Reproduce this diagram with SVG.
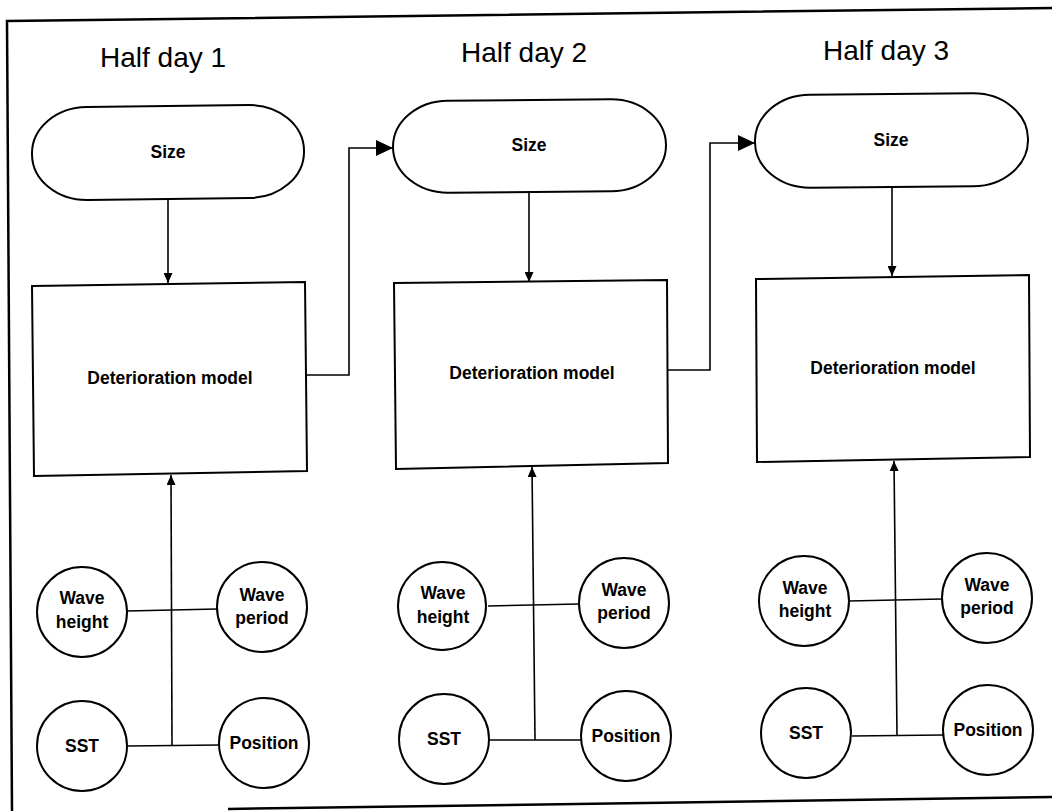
<svg xmlns="http://www.w3.org/2000/svg" width="1052" height="811" viewBox="0 0 1052 811">
<defs>
<style>
.frame{fill:none;stroke:#000;stroke-width:2.5}
.box{fill:#fff;stroke:#000;stroke-width:2}
.ln{fill:none;stroke:#000;stroke-width:1.6}
.ttl{font-family:"Liberation Sans",Arial,sans-serif;font-size:28px;fill:#000}
.lbl{font-family:"Liberation Sans",Arial,sans-serif;font-size:17.5px;font-weight:bold;fill:#000;text-anchor:middle}
</style>
<marker id="sm" viewBox="0 0 10 9" refX="10" refY="4.5" markerWidth="10" markerHeight="9" markerUnits="userSpaceOnUse" orient="auto"><path d="M0,0 L10,4.5 L0,9 z" fill="#000"/></marker>
<marker id="lg" viewBox="0 0 17 16" refX="17" refY="8" markerWidth="17" markerHeight="16" markerUnits="userSpaceOnUse" orient="auto"><path d="M0,0 L17,8 L0,16 z" fill="#000"/></marker>
</defs>
<rect width="1052" height="811" fill="#fff"/>
<g id="frame">
<path class="frame" d="M1052,8 L7,21 L12,811"/>
<path class="frame" d="M228,809 L1052,797"/>
</g>
<g id="titles">
<text class="ttl" x="100" y="67">Half day 1</text>
<text class="ttl" x="461" y="62">Half day 2</text>
<text class="ttl" x="823" y="60">Half day 3</text>
</g>
<g id="connectors">
<path class="ln" d="M168,199 L168,283" marker-end="url(#sm)"/>
<path class="ln" d="M529,192 L529,282" marker-end="url(#sm)"/>
<path class="ln" d="M892,187 L892,276" marker-end="url(#sm)"/>
<path class="ln" d="M306,375 L349,375 L349,148 L393,148" marker-end="url(#lg)"/>
<path class="ln" d="M668,370 L710,370 L710,143 L755,143" marker-end="url(#lg)"/>
<path class="ln" d="M172,745 L171,475" marker-end="url(#sm)"/>
<path class="ln" d="M535,740 L532,467" marker-end="url(#sm)"/>
<path class="ln" d="M897,735 L894,461" marker-end="url(#sm)"/>
<path class="ln" d="M127,611 L217,609"/>
<path class="ln" d="M128,746 L219,745"/>
<path class="ln" d="M488,606 L579,604"/>
<path class="ln" d="M489,740 L581,740"/>
<path class="ln" d="M849,601 L942,599"/>
<path class="ln" d="M852,736 L943,735"/>
</g>
<g id="size1"><rect class="box" x="32" y="106" width="272" height="93" rx="55" ry="46" transform="rotate(-0.7 168 152)"/><text class="lbl" x="168" y="158">Size</text></g>
<g id="size2"><rect class="box" x="393" y="100" width="273" height="92" rx="55" ry="46" transform="rotate(-0.5 529 146)"/><text class="lbl" x="529" y="151">Size</text></g>
<g id="size3"><rect class="box" x="755" y="94" width="273" height="93" rx="55" ry="46" transform="rotate(-0.5 891 140)"/><text class="lbl" x="891" y="146">Size</text></g>
<g id="det1"><path class="box" d="M32,286 L305,282 L307,471 L34,476 z"/><text class="lbl" x="170" y="384">Deterioration model</text></g>
<g id="det2"><path class="box" d="M394,283 L667,280 L668,463 L396,469 z"/><text class="lbl" x="532" y="379">Deterioration model</text></g>
<g id="det3"><path class="box" d="M756,279 L1029,275 L1030,457 L757,462 z"/><text class="lbl" x="893" y="374">Deterioration model</text></g>
<g id="waveheight1"><circle class="box" cx="82" cy="612" r="45"/><text class="lbl" x="82" y="604">Wave</text><text class="lbl" x="82" y="628">height</text></g>
<g id="waveperiod1"><circle class="box" cx="262" cy="607" r="45"/><text class="lbl" x="262" y="601">Wave</text><text class="lbl" x="262" y="624">period</text></g>
<g id="sst1"><circle class="box" cx="82" cy="746" r="45"/><text class="lbl" x="82" y="752">SST</text></g>
<g id="position1"><circle class="box" cx="264" cy="743" r="45"/><text class="lbl" x="264" y="749">Position</text></g>
<g id="waveheight2"><circle class="box" cx="442" cy="606" r="44"/><text class="lbl" x="443" y="599">Wave</text><text class="lbl" x="443" y="623">height</text></g>
<g id="waveperiod2"><circle class="box" cx="624" cy="603" r="45"/><text class="lbl" x="624" y="596">Wave</text><text class="lbl" x="624" y="619">period</text></g>
<g id="sst2"><circle class="box" cx="444" cy="739" r="45"/><text class="lbl" x="444" y="745">SST</text></g>
<g id="position2"><circle class="box" cx="626" cy="736" r="45"/><text class="lbl" x="626" y="742">Position</text></g>
<g id="waveheight3"><circle class="box" cx="804" cy="601" r="45"/><text class="lbl" x="805" y="594">Wave</text><text class="lbl" x="805" y="617">height</text></g>
<g id="waveperiod3"><circle class="box" cx="987" cy="598" r="45"/><text class="lbl" x="987" y="591">Wave</text><text class="lbl" x="987" y="614">period</text></g>
<g id="sst3"><circle class="box" cx="806" cy="733" r="45"/><text class="lbl" x="806" y="739">SST</text></g>
<g id="position3"><circle class="box" cx="988" cy="730" r="45"/><text class="lbl" x="988" y="736">Position</text></g>
</svg>
